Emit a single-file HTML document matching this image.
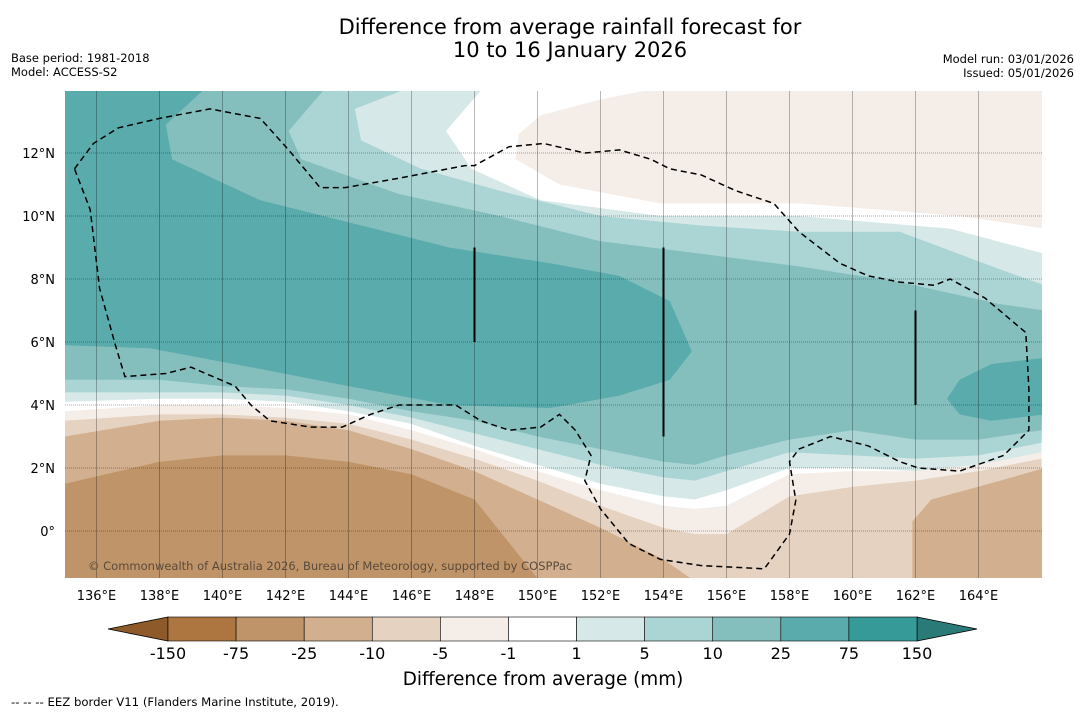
<!DOCTYPE html>
<html><head><meta charset="utf-8"><style>
body{margin:0;background:#fff;width:1085px;height:713px;overflow:hidden;font-family:"DejaVu Sans","Liberation Sans",sans-serif;}
</style></head><body>
<svg id="chart" width="1085" height="713" xmlns="http://www.w3.org/2000/svg" font-family="DejaVu Sans, Liberation Sans, sans-serif">
<text x="570" y="34" font-size="21" text-anchor="middle">Difference from average rainfall forecast for</text>
<text x="570" y="57" font-size="21" text-anchor="middle">10 to 16 January 2026</text>
<text x="11" y="62" font-size="11.5">Base period: 1981-2018</text>
<text x="11" y="76" font-size="11.5">Model: ACCESS-S2</text>
<text x="1074" y="63" font-size="11.5" text-anchor="end">Model run: 03/01/2026</text>
<text x="1074" y="77" font-size="11.5" text-anchor="end">Issued: 05/01/2026</text>
<defs><clipPath id="mapclip"><rect x="65" y="91" width="977" height="487"/></clipPath></defs>
<g id="map" clip-path="url(#mapclip)"></g>
<g id="axes"></g>
<g id="cbar"></g>
<text x="543" y="685" font-size="18.4" text-anchor="middle">Difference from average (mm)</text>
<text x="11" y="706" font-size="11.7">--  --  -- EEZ border V11 (Flanders Marine Institute, 2019).</text>
</svg>
<script>
const NS="http://www.w3.org/2000/svg";
const levelLabels=["-150","-75","-25","-10","-5","-1","1","5","10","25","75","150"];
const levelColors=["#ad7641","#c09469","#d2b08f","#e5d2c0","#f5eee8","#ffffff","#d6e9e8","#abd5d4","#84bfbe","#5aabab","#359a98"];
const lonTicks=[136,138,140,142,144,146,148,150,152,154,156,158,160,162,164];
const latTicks=[0,2,4,6,8,10,12];
const curveLons=[135,138,140,142,144,146,148,150,152,154,155,156,158,160,162,164,166];
const pos1Lower=[4.1,4.2,4.2,4.1,3.8,3.4,2.7,2.1,1.5,1.1,1.0,1.3,2.0,2.0,1.9,2.1,2.4];
const pos5Lower=[4.4,4.4,4.4,4.3,4.0,3.6,3.1,2.6,2.1,1.7,1.6,1.9,2.5,2.4,2.3,2.4,2.8];
const pos10Lower=[4.8,4.8,4.6,4.5,4.2,3.8,3.5,3.0,2.6,2.2,2.1,2.4,2.9,3.2,2.9,2.9,3.2];
const pos1North=[[148.3,14.1],[147.1,12.7],[147.9,11.5],[150.1,10.5],[153.9,10.0],[158.3,10.0],[163.1,9.6],[166.1,8.8]];
const pos5North=[[146.0,14.1],[144.2,13.4],[144.4,12.4],[146.3,11.5],[148.8,10.8],[152.0,10.0],[155.2,9.7],[158.3,9.5],[161.5,9.5],[164.7,8.3],[166.1,7.8]];
const pos10North=[[143.3,14.1],[142.1,12.7],[142.5,11.8],[145.6,10.7],[148.8,10.0],[152.0,9.2],[155.2,8.8],[158.3,8.4],[161.5,7.9],[164.7,7.2],[166.1,7.0]];
const pos25West=[[134.9,14.1],[139.5,14.1],[138.2,12.9],[138.4,11.8],[141.2,10.5],[144.0,9.8],[147.2,9.0],[150.4,8.5],[152.6,8.1],[154.2,7.3],[154.9,5.7],[154.2,4.8],[152.6,4.3],[150.4,3.9],[147.2,4.0],[144.0,4.6],[140.9,5.2],[137.7,5.8],[134.9,5.9]];
const pos25East=[[166.1,5.5],[164.4,5.3],[163.4,4.8],[163.0,4.2],[163.4,3.7],[164.4,3.5],[166.1,3.7]];
const negNE=[[149.4,12.6],[150.1,13.2],[152.0,13.7],[154.0,14.1],[166.1,14.1],[166.1,9.6],[163.4,10.0],[158.3,10.4],[153.9,10.4],[150.7,11.0],[149.3,11.8]];
const neg1Upper=[3.8,4.0,4.0,3.9,3.7,3.2,2.6,1.9,1.3,0.8,0.7,0.8,1.8,1.9,1.9,2.1,2.5];
const neg5Upper=[3.5,3.7,3.7,3.6,3.4,2.9,2.3,1.6,0.8,0.1,-0.1,-0.1,1.1,1.4,1.6,1.9,2.3];
const neg10Upper=[3.0,3.5,3.6,3.5,3.2,2.6,1.9,1.0,0.1,-0.9,-1.6,-2,-2,-2,-2,-2,-2];
const neg10East=[[161.9,-2],[161.9,0.3],[162.5,1.0],[164.7,1.6],[166.1,2.0],[166.1,-2]];
const neg25Lons=[135,138,140,142,144,146,148,150,152];
const neg25Upper=[1.5,2.2,2.4,2.4,2.2,1.8,1.0,-1.5,-2];
const eez=[[135.3,11.5],[135.9,12.3],[136.7,12.8],[138,13.1],[139.6,13.4],[141.2,13.1],[142.1,12.1],[143.1,10.9],[143.9,10.9],[145.6,11.2],[147.7,11.6],[148.0,11.6],[149.1,12.2],[150.2,12.3],[151.5,12.0],[152.6,12.1],[153.6,11.8],[154.2,11.5],[155.2,11.3],[156.3,10.8],[157.5,10.4],[158.3,9.5],[159.6,8.5],[160.5,8.1],[161.5,7.9],[162.6,7.8],[163.1,8.0],[164.2,7.4],[165.5,6.3],[165.6,4.5],[165.6,3.2],[164.8,2.4],[163.4,1.9],[162.1,2.0],[161.5,2.2],[160.5,2.7],[159.3,3.0],[158.3,2.6],[158.0,2.2],[158.2,0.97],[158.0,-0.1],[157.2,-1.2],[155.2,-1.1],[153.9,-0.9],[152.9,-0.4],[152.0,0.7],[151.5,1.6],[151.7,2.4],[151.2,3.2],[150.7,3.7],[150.1,3.3],[149.1,3.2],[148.2,3.5],[147.4,4.0],[145.6,4.0],[144.7,3.7],[143.8,3.3],[142.8,3.3],[141.5,3.5],[140.9,4.0],[140.4,4.6],[139.0,5.2],[138.2,5.0],[136.9,4.9],[136.6,5.9],[136.1,7.7],[135.8,10.2],[135.3,11.5]];
const tracks=[[148,9,6],[154,9,3],[162,7,4]];

const X=lon=>65+(lon-135)*31.5;
const Y=lat=>531-lat*31.5;
const map=document.getElementById('map');
function poly(pts,fill,name){
  const p=document.createElementNS(NS,'polygon');
  p.setAttribute('points',pts.map(q=>X(q[0]).toFixed(1)+','+Y(q[1]).toFixed(1)).join(' '));
  p.setAttribute('fill',fill);
  
  
  map.appendChild(p);
}
function above(lower,north,fill,name){
  let pts=north.slice();
  pts.unshift([134.9,14.1]);
  for(let i=curveLons.length-1;i>=0;i--)pts.push([curveLons[i],lower[i]]);
  poly(pts,fill,name);
}
function below(lons,upper,fill,name){
  const pts=lons.map((l,i)=>[l,upper[i]]);
  pts.push([lons[lons.length-1],-2]);pts.push([lons[0],-2]);
  poly(pts,fill,name);
}
const bg=document.createElementNS(NS,'rect');
bg.setAttribute('x',65);bg.setAttribute('y',91);bg.setAttribute('width',977);bg.setAttribute('height',487);bg.setAttribute('fill','#fff');


map.appendChild(bg);
poly(negNE,levelColors[4],'contour-neg1-northeast');
above(pos1Lower,pos1North,levelColors[6],'contour-pos1');
above(pos5Lower,pos5North,levelColors[7],'contour-pos5');
above(pos10Lower,pos10North,levelColors[8],'contour-pos10');
poly(pos25West,levelColors[9],'contour-pos25-west');
poly(pos25East,levelColors[9],'contour-pos25-east');
below(curveLons,neg1Upper,levelColors[4],'contour-neg1');
below(curveLons,neg5Upper,levelColors[3],'contour-neg5');
below(curveLons,neg10Upper,levelColors[2],'contour-neg10');
poly(neg10East,levelColors[2],'contour-neg10-east');
below(neg25Lons,neg25Upper,levelColors[1],'contour-neg25');
lonTicks.forEach(l=>{
  const g=document.createElementNS(NS,'line');
  g.setAttribute('x1',X(l));g.setAttribute('x2',X(l));g.setAttribute('y1',91);g.setAttribute('y2',578);
  g.setAttribute('stroke','rgba(0,0,0,0.35)');g.setAttribute('stroke-width','0.8');
  
  
  map.appendChild(g);
});
latTicks.forEach(l=>{
  const g=document.createElementNS(NS,'line');
  g.setAttribute('x1',65);g.setAttribute('x2',1042);g.setAttribute('y1',Y(l));g.setAttribute('y2',Y(l));
  g.setAttribute('stroke','rgba(0,0,0,0.45)');g.setAttribute('stroke-width','0.8');g.setAttribute('stroke-dasharray','1,1');
  
  
  map.appendChild(g);
});
const e=document.createElementNS(NS,'polyline');
e.setAttribute('points',eez.map(q=>X(q[0]).toFixed(1)+','+Y(q[1]).toFixed(1)).join(' '));
e.setAttribute('fill','none');e.setAttribute('stroke','#000');e.setAttribute('stroke-width','1.5');e.setAttribute('stroke-dasharray','6,4');


map.appendChild(e);
tracks.forEach(t=>{
  const l=document.createElementNS(NS,'line');
  l.setAttribute('x1',X(t[0]));l.setAttribute('x2',X(t[0]));l.setAttribute('y1',Y(t[1]));l.setAttribute('y2',Y(t[2]));
  l.setAttribute('stroke','#000');l.setAttribute('stroke-width','2');
  
  
  map.appendChild(l);
});
const cp=document.createElementNS(NS,'text');
cp.setAttribute('x',88);cp.setAttribute('y',570);cp.setAttribute('font-size','11.5');cp.setAttribute('fill','#5a4a3a');
cp.textContent='© Commonwealth of Australia 2026, Bureau of Meteorology, supported by COSPPac';


map.appendChild(cp);
const axes=document.getElementById('axes');
lonTicks.forEach(l=>{
  const t=document.createElementNS(NS,'text');
  t.setAttribute('x',X(l));t.setAttribute('y',600);t.setAttribute('font-size','13');t.setAttribute('text-anchor','middle');
  t.textContent=l+'°E';
  
  
  axes.appendChild(t);
});
latTicks.forEach(l=>{
  const t=document.createElementNS(NS,'text');
  t.setAttribute('x',55);t.setAttribute('y',Y(l)+5);t.setAttribute('font-size','13');t.setAttribute('text-anchor','end');
  t.textContent=l===0?'0°':l+'°N';
  
  
  axes.appendChild(t);
});
const cb=document.getElementById('cbar');
const cx0=168,cx1=917,cy0=617,cy1=641,n=levelColors.length,w=(cx1-cx0)/n;
const left=document.createElementNS(NS,'polygon');
left.setAttribute('points',`${cx0},${cy0} 108,${(cy0+cy1)/2} ${cx0},${cy1}`);left.setAttribute('fill','#8f5a29');left.setAttribute('stroke','#000');left.setAttribute('stroke-width','0.8');


cb.appendChild(left);
const right=document.createElementNS(NS,'polygon');
right.setAttribute('points',`${cx1},${cy0} 977,${(cy0+cy1)/2} ${cx1},${cy1}`);right.setAttribute('fill','#2a7b78');right.setAttribute('stroke','#000');right.setAttribute('stroke-width','0.8');


cb.appendChild(right);
levelColors.forEach((c,i)=>{
  const r=document.createElementNS(NS,'rect');
  r.setAttribute('x',cx0+i*w);r.setAttribute('y',cy0);r.setAttribute('width',w);r.setAttribute('height',cy1-cy0);
  r.setAttribute('fill',c);r.setAttribute('stroke','#000');r.setAttribute('stroke-width','0.6');
  
  
  cb.appendChild(r);
});
levelLabels.forEach((s,i)=>{
  const t=document.createElementNS(NS,'text');
  t.setAttribute('x',cx0+i*w);t.setAttribute('y',659);t.setAttribute('font-size','16');t.setAttribute('text-anchor','middle');
  t.textContent=s;
  
  
  cb.appendChild(t);
});
</script>
</body></html>
